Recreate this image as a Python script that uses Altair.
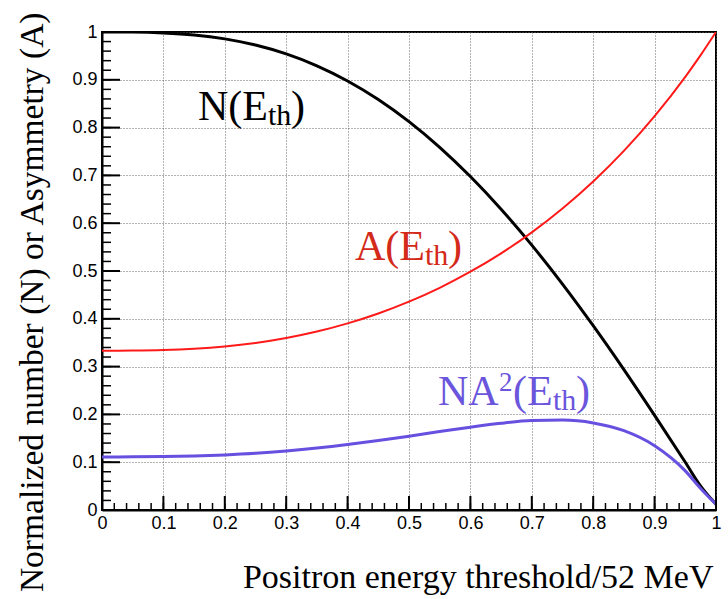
import altair as alt
import pandas as pd

# ---- data ----
x_vals = [0.0, 0.05, 0.1, 0.15, 0.2, 0.25, 0.3, 0.35, 0.4, 0.45, 0.5, 0.55,
          0.6, 0.65, 0.7, 0.75, 0.8, 0.85, 0.9, 0.95, 0.975, 1.0]
n_vals = [1.0, 0.9998, 0.9981, 0.9938, 0.9856, 0.9727, 0.9541, 0.9293, 0.8976,
          0.8588, 0.8125, 0.7588, 0.6976, 0.6293, 0.5541, 0.4727, 0.3856,
          0.2938, 0.1981, 0.0998, 0.050, 0.012]
a_vals = [0.3333, 0.3335, 0.3345, 0.3372, 0.3420, 0.3494, 0.3598, 0.3733,
          0.3904, 0.4112, 0.4359, 0.4649, 0.4985, 0.5370, 0.5809, 0.6309,
          0.6874, 0.7514, 0.8240, 0.9063, 0.9516, 1.0]
na2_vals = [0.1111, 0.1112, 0.1117, 0.1130, 0.1153, 0.1187, 0.1235, 0.1295,
            0.1368, 0.1452, 0.1544, 0.1640, 0.1733, 0.1815, 0.1870, 0.1881,
            0.1822, 0.1659, 0.1345, 0.0819, 0.0450, 0.012]

tick_vals = [0.0, 0.1, 0.2, 0.3, 0.4, 0.5, 0.6, 0.7, 0.8, 0.9, 1.0]
minor_vals = [round(i * 0.02, 2) for i in range(51)]

W, H = 614, 478

xs = alt.Scale(domain=[0, 1], nice=False, zero=False)
ys = alt.Scale(domain=[0, 1], nice=False, zero=False)

label_expr = "datum.value == 0 ? '0' : datum.value == 1 ? '1' : format(datum.value, '.1f')"

x_axis = alt.Axis(values=tick_vals, grid=True, gridDash=[1, 2], gridColor="#666",
                  gridWidth=1, ticks=False, domain=True, domainColor="black",
                  domainWidth=2, labelFont="Liberation Sans", labelFontSize=18,
                  labelColor="black", labelPadding=4, labelExpr=label_expr,
                  title="Positron energy threshold/52 MeV", titleFont="Liberation Serif",
                  titleFontSize=34, titleFontWeight="normal", titleColor="black",
                  titleAlign="right", titleAnchor="end", titleX=W - 3, titleY=77,
                  titleBaseline="alphabetic", labelFlush=False)
y_axis = alt.Axis(values=tick_vals, grid=True, gridDash=[1, 2], gridColor="#666",
                  gridWidth=1, ticks=False, domain=True, domainColor="black",
                  domainWidth=2, labelFont="Liberation Sans", labelFontSize=18,
                  labelColor="black", labelPadding=5, labelExpr=label_expr,
                  title="Normalized number (N) or Asymmetry (A)",
                  titleFont="Liberation Serif", titleFontSize=33.5,
                  titleFontWeight="normal", titleColor="black", titleAngle=-90,
                  titleAlign="right", titleX=-60, titleY=-20,
                  titleBaseline="alphabetic", labelFlush=False)

n_df = pd.DataFrame({"x": x_vals, "y": n_vals})
a_df = pd.DataFrame({"x": x_vals, "y": a_vals})
na_df = pd.DataFrame({"x": x_vals, "y": na2_vals})

X = lambda f: alt.X(f, scale=xs, axis=x_axis)
Y = lambda f: alt.Y(f, scale=ys, axis=y_axis)

n_line = alt.Chart(n_df).mark_line(color="black", strokeWidth=3,
                                   interpolate="monotone", clip=True).encode(
    x=X("x:Q"), y=Y("y:Q"))
a_line = alt.Chart(a_df).mark_line(color="#ff1a1a", strokeWidth=2,
                                   interpolate="monotone", clip=True).encode(
    x=X("x:Q"), y=Y("y:Q"))
na_line = alt.Chart(na_df).mark_line(color="#6650e0", strokeWidth=3,
                                     interpolate="monotone", clip=True).encode(
    x=X("x:Q"), y=Y("y:Q"))

# inward ticks (ROOT style)
maj_df = pd.DataFrame({"x": tick_vals, "y": tick_vals})
min_df = pd.DataFrame({"x": minor_vals, "y": minor_vals})
y_major = alt.Chart(maj_df).mark_rule(color="black", strokeWidth=2).encode(
    y=Y("y:Q"), x=alt.value(0), x2=alt.value(18))
y_minor = alt.Chart(min_df).mark_rule(color="black", strokeWidth=1.5).encode(
    y=Y("y:Q"), x=alt.value(0), x2=alt.value(9))
x_major = alt.Chart(maj_df).mark_rule(color="black", strokeWidth=2).encode(
    x=X("x:Q"), y=alt.value(H), y2=alt.value(H - 14))
x_minor = alt.Chart(min_df).mark_rule(color="black", strokeWidth=1.5).encode(
    x=X("x:Q"), y=alt.value(H), y2=alt.value(H - 7))


def txt(s, xp, yp, size, color):
    return alt.Chart(pd.DataFrame({"t": [s]})).mark_text(
        align="left", baseline="alphabetic", font="Liberation Serif",
        fontSize=size, color=color).encode(
        text="t:N", x=alt.value(xp), y=alt.value(yp))


N_COL = "black"
A_COL = "#d42a1a"
P_COL = "#6a55dc"
labels = [
    txt("N(E", 96, 88, 42, N_COL), txt("th", 166, 93, 30, N_COL), txt(")", 189, 88, 42, N_COL),
    txt("A(E", 253, 228, 42, A_COL), txt("th", 323, 233, 30, A_COL), txt(")", 346, 228, 42, A_COL),
    txt("NA", 336, 373, 42, P_COL), txt("2", 397, 359, 27, P_COL),
    txt("(E", 411, 373, 42, P_COL), txt("th", 451, 378, 30, P_COL), txt(")", 474, 373, 42, P_COL),
]

chart = alt.layer(n_line, a_line, na_line, y_major, y_minor, x_major, x_minor,
                  *labels).properties(
    width=W, height=H,
    background="white",
    padding={"left": 102, "top": 32, "right": 12, "bottom": 89},
    autosize=alt.AutoSizeParams(type="none"),
).configure_view(stroke="black", strokeWidth=2)

chart.save("out.html", embed_options={"renderer": "svg", "actions": False})
